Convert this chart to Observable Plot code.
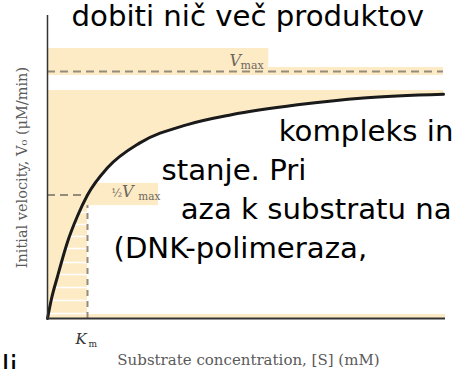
<!DOCTYPE html>
<html><head><meta charset="utf-8">
<script src="https://cdn.jsdelivr.net/npm/d3@7"></script>
<script src="https://cdn.jsdelivr.net/npm/@observablehq/plot@0.6"></script>
<style>html,body{margin:0;padding:0;background:#fff} svg{display:block}</style>
</head><body><div id="chart"></div>
<script>
// Michaelis–Menten curve
// substrate in units of Km, velocity in units of Vmax
const substrate = [0, 0.1, 0.25, 0.5, 0.75, 1, 1.5, 2.3, 3.5, 4.6, 6.25, 7.9, 9.9];
const velocity  = [0, 0.08, 0.17, 0.31, 0.415, 0.5, 0.61, 0.71, 0.785, 0.825, 0.865, 0.893, 0.908];
const vmax = 1;
const halfVmax = 0.5;
const km = 1;
const stripeLevels = [0.429, 0.381, 0.332, 0.283, 0.227, 0.178, 0.126, 0.073, 0.02];
const xAxisLabel = "Substrate concentration, [S] (mM)";
const yAxisLabel = "Initial velocity, V\u2080 (\u03bcM/min)";
const overlayText = ["dobiti nič več produktov", "kompleks in", "stanje. Pri", "aza k substratu na", "(DNK-polimeraza,", "li"];

// layout (data coordinates)
const xMax = 9.95, yMax = 1.2267, bandTop = 0.923;
const overlayAt = [[0.6, 1.186], [5.78, 0.717], [2.85, 0.559], [3.33, 0.401], [1.65, 0.243], [-1.15, -0.231]];
const yellow = "#fdebc6";
const dash = "#958b7b";
const labelInk = "#6e675d";
const axisInk = "#5a5a5a";

const curveData = substrate.map((s, i) => ({s, v: velocity[i]}));
const one = [0];

const serif = "DejaVu Serif";
const chart = Plot.plot({
  width: 465, height: 369,
  marginLeft: 47, marginRight: 20, marginTop: 15, marginBottom: 51,
  x: {domain: [0, xMax], axis: null},
  y: {domain: [0, yMax], axis: null},
  style: {background: "#fff", overflow: "visible"},
  marks: [
    Plot.rect(one, {x1: 0, x2: 5.53, y1: 0.984, y2: 1.093, fill: yellow}),
    Plot.rect(one, {x1: 5.53, x2: 9.9, y1: 0.984, y2: 1.016, fill: yellow}),
    Plot.rect(one, {x1: 0, x2: xMax, y1: 0, y2: 0.016, fill: yellow}),
    Plot.rect(one, {x1: 0, x2: km, y1: 0, y2: 0.457, fill: yellow}),
    Plot.rect(one, {x1: 0, x2: 2.775, y1: 0.457, y2: 0.547, fill: yellow}),
    Plot.ruleY(stripeLevels, {x1: 0, x2: km, stroke: "#fff", strokeWidth: 1.5}),
    Plot.areaY(curveData, {x: "s", y1: "v", y2: bandTop, fill: yellow, curve: "monotone-x"}),
    Plot.ruleY([vmax], {x1: 0, x2: 9.9, stroke: dash, strokeWidth: 2, strokeDasharray: "8,5"}),
    Plot.ruleY([halfVmax], {x1: 0, x2: km, stroke: dash, strokeWidth: 2, strokeDasharray: "8,5"}),
    Plot.ruleX([km], {y1: 0, y2: 0.457, stroke: dash, strokeWidth: 2, strokeDasharray: "6,5"}),
    Plot.line(curveData, {x: "s", y: "v", stroke: "#1a1a1a", strokeWidth: 3, curve: "monotone-x"}),
    Plot.ruleX([0], {y1: 0, y2: yMax, stroke: "#333", strokeWidth: 1.5}),
    Plot.ruleY([0], {x1: 0, x2: xMax, stroke: "#333", strokeWidth: 2}),
    // Vmax label
    Plot.text(["V"], {x: 4.55, y: 1.024, text: d => d, fontFamily: serif, fontStyle: "italic", fontSize: 16, fill: labelInk, textAnchor: "start", lineAnchor: "bottom"}),
    Plot.text(["max"], {x: 4.825, y: 1.012, text: d => d, fontFamily: serif, fontSize: 11, fill: labelInk, textAnchor: "start", lineAnchor: "bottom"}),
    // 1/2 Vmax label
    Plot.text(["\u00bd"], {x: 1.6, y: 0.49, text: d => d, fontFamily: serif, fontSize: 11, fill: labelInk, textAnchor: "start", lineAnchor: "bottom"}),
    Plot.text(["V"], {x: 1.86, y: 0.49, text: d => d, fontFamily: serif, fontStyle: "italic", fontSize: 16, fill: labelInk, textAnchor: "start", lineAnchor: "bottom"}),
    Plot.text(["max"], {x: 2.27, y: 0.478, text: d => d, fontFamily: serif, fontSize: 10.5, fill: labelInk, textAnchor: "start", lineAnchor: "bottom"}),
    // Km label
    Plot.text(["K"], {x: 0.7, y: -0.105, text: d => d, fontFamily: serif, fontStyle: "italic", fontSize: 15, fill: "#333", textAnchor: "start", lineAnchor: "bottom"}),
    Plot.text(["m"], {x: 1.025, y: -0.117, text: d => d, fontFamily: serif, fontSize: 9, fill: "#333", textAnchor: "start", lineAnchor: "bottom"}),
    // axis titles
    Plot.text([xAxisLabel], {x: 5.025, y: -0.19, text: d => d, fontFamily: serif, fontSize: 15, fill: axisInk, textAnchor: "middle", lineAnchor: "bottom"}),
    Plot.text([yAxisLabel], {x: -0.625, y: 0.611, text: d => d, rotate: -90, fontFamily: serif, fontSize: 14.5, fill: axisInk, textAnchor: "middle", lineAnchor: "middle"}),
    // overlaid page text
    Plot.text(overlayText, {x: (d, i) => overlayAt[i][0], y: (d, i) => overlayAt[i][1], text: d => d, fontFamily: "DejaVu Sans", fontSize: 29.2, fill: "#000", textAnchor: "start", lineAnchor: "bottom"})
  ]
});
document.getElementById("chart").append(chart);
</script>
</body></html>
